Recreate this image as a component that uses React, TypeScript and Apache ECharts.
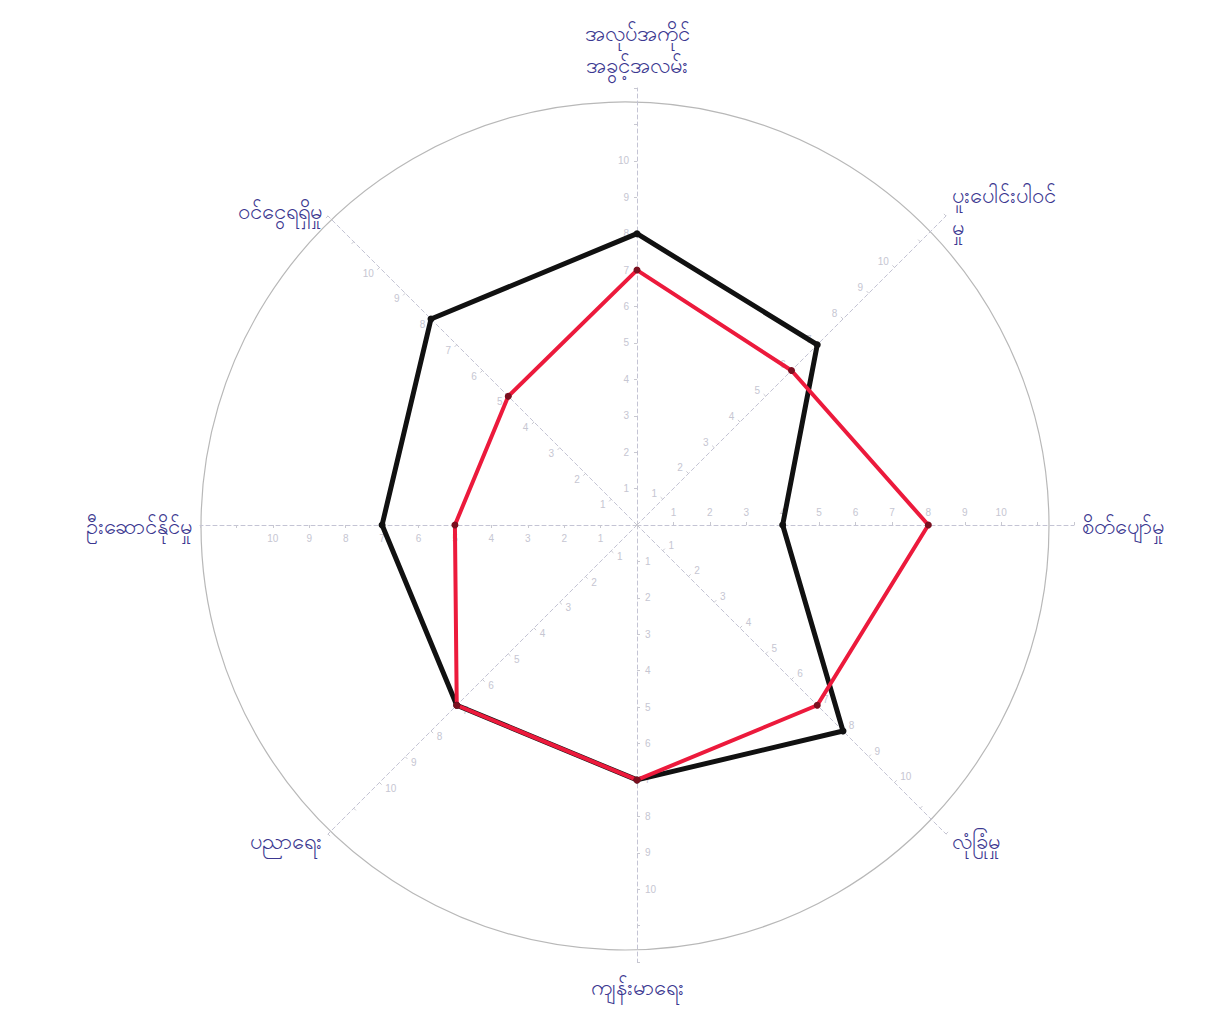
import React, { useEffect, useRef } from "react";
import * as echarts from "echarts";

// Indicators, counter-clockwise from the top (ECharts radar order)
const indicatorNames = [
  "အလုပ်အကိုင်\nအခွင့်အလမ်း",
  "ဝင်ငွေရရှိမှု",
  "ဦးဆောင်နိုင်မှု",
  "ပညာရေး",
  "ကျန်းမာရေး",
  "လုံခြုံမှု",
  "စိတ်ပျော်မှု",
  "ပူးပေါင်းပါဝင်\nမှု",
];
const axisMax = 12;
const blackValues = [8, 8, 7, 7, 7, 8, 4, 7];
const redValues = [7, 5, 5, 7, 7, 7, 8, 6];

export default function App() {
  const ref = useRef<HTMLDivElement>(null);
  useEffect(() => {
    if (!ref.current) return;
    const chart = echarts.init(ref.current, null, { renderer: "svg" });
    chart.setOption({
      animation: false,
      backgroundColor: "#ffffff",
      radar: [
        {
          // outer frame circle
          center: [625, 526],
          radius: 424,
          startAngle: 90,
          shape: "circle",
          splitNumber: 1,
          indicator: indicatorNames.map(() => ({ name: "", min: 0, max: 1 })),
          axisName: { show: false },
          axisLine: { show: false },
          axisTick: { show: false },
          axisLabel: { show: false },
          splitArea: { show: false },
          splitLine: { lineStyle: { color: "#b8b8b8", width: 1.2 } },
          silent: true,
        },
        {
          center: [637, 525],
          radius: 437,
          startAngle: 90,
          shape: "circle",
          splitNumber: axisMax,
          indicator: indicatorNames.map((n) => ({ name: n, min: 0, max: axisMax })),
          axisName: {
            color: "#3b3790",
            fontSize: 22,
            fontFamily: "'Noto Sans', sans-serif",
            lineHeight: 32,
          },
          nameGap: 8,
          axisLine: { lineStyle: { color: "#c4c4d4", type: [4, 3], width: 1 } },
          splitLine: { show: false },
          splitArea: { show: false },
          axisTick: { show: true, length: 3, lineStyle: { color: "#c8c8d0" } },
          axisLabel: {
            show: true,
            color: "#c6c6d2",
            fontSize: 10,
            formatter: (v: number) => (v >= 1 && v <= 10 ? String(v) : ""),
          },
        },
      ],
      series: [
        {
          type: "radar",
          radarIndex: 1,
          symbol: "circle",
          symbolSize: 7,
          data: [
            {
              value: blackValues,
              name: "black",
              lineStyle: { color: "#111111", width: 5 },
              itemStyle: { color: "#111111" },
            },
            {
              value: redValues,
              name: "red",
              lineStyle: { color: "#ec1a3c", width: 4 },
              itemStyle: { color: "#7a1020" },
            },
          ],
        },
      ],
    });
    return () => chart.dispose();
  }, []);
  return (
    <div
      ref={ref}
      style={{ position: "absolute", left: 0, top: 0, width: 1207, height: 1035 }}
    />
  );
}
